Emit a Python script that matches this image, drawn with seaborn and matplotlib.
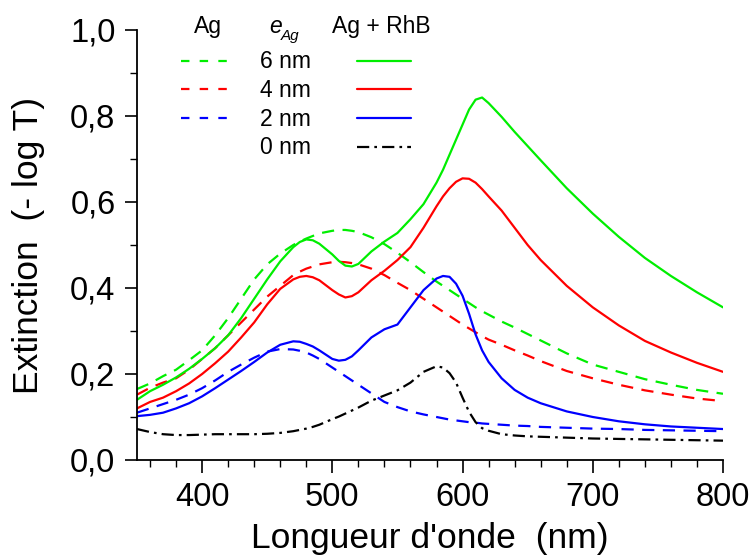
import matplotlib
matplotlib.use("Agg")
import matplotlib.pyplot as plt
import seaborn as sns
from matplotlib.lines import Line2D
from matplotlib.ticker import MultipleLocator, FuncFormatter

# ---------------- data ----------------
wavelength = [350, 360, 370, 380, 390, 400, 410, 420, 430, 440, 450, 460, 470,
              475, 480, 485, 490, 500, 505, 510, 515, 520, 530, 540, 550, 560, 570, 580,
              585, 590, 595, 600, 605, 610, 615, 620, 630, 640, 650, 660,
              680, 700, 720, 740, 760, 780, 800]

ag6_rhb = [0.140, 0.160, 0.175, 0.192, 0.212, 0.235, 0.260, 0.290, 0.330, 0.375, 0.420, 0.462, 0.495,
           0.507, 0.513, 0.511, 0.503, 0.478, 0.463, 0.452, 0.450, 0.456, 0.485, 0.508, 0.528, 0.560, 0.595, 0.645,
           0.675, 0.710, 0.745, 0.780, 0.815, 0.838, 0.843, 0.830, 0.798, 0.763, 0.730, 0.697,
           0.632, 0.573, 0.519, 0.470, 0.428, 0.390, 0.355]
ag4_rhb = [0.120, 0.135, 0.145, 0.160, 0.178, 0.200, 0.225, 0.252, 0.285, 0.320, 0.362, 0.398, 0.420,
           0.426, 0.428, 0.425, 0.418, 0.395, 0.385, 0.378, 0.381, 0.390, 0.418, 0.440, 0.465, 0.495, 0.540, 0.590,
           0.613, 0.632, 0.647, 0.655, 0.654, 0.645, 0.630, 0.613, 0.580, 0.540, 0.500, 0.465,
           0.405, 0.355, 0.313, 0.277, 0.250, 0.226, 0.205]
ag2_rhb = [0.102, 0.105, 0.110, 0.120, 0.132, 0.148, 0.167, 0.187, 0.207, 0.228, 0.250, 0.268, 0.276,
           0.275, 0.270, 0.264, 0.255, 0.235, 0.231, 0.233, 0.241, 0.255, 0.285, 0.304, 0.315, 0.355, 0.395, 0.422,
           0.428, 0.426, 0.410, 0.382, 0.340, 0.292, 0.255, 0.228, 0.190, 0.163, 0.145, 0.132,
           0.113, 0.100, 0.090, 0.083, 0.078, 0.075, 0.072]
rhb_only = [0.072, 0.065, 0.060, 0.058, 0.058, 0.059, 0.060, 0.060, 0.060, 0.060, 0.061, 0.063, 0.067,
            0.070, 0.073, 0.077, 0.082, 0.095, 0.101, 0.108, 0.115, 0.122, 0.138, 0.150, 0.162, 0.180, 0.205, 0.218,
            0.215, 0.202, 0.180, 0.145, 0.112, 0.088, 0.074, 0.068, 0.060, 0.057, 0.055, 0.054,
            0.052, 0.050, 0.049, 0.048, 0.047, 0.046, 0.045]
ag6 = [0.165, 0.178, 0.195, 0.210, 0.232, 0.255, 0.290, 0.330, 0.375, 0.420, 0.455, 0.480, 0.500,
       0.508, 0.515, 0.521, 0.527, 0.533, 0.535, 0.535, 0.533, 0.530, 0.518, 0.502, 0.482, 0.460, 0.437, 0.415,
       0.405, 0.395, 0.385, 0.375, 0.365, 0.355, 0.346, 0.338, 0.322, 0.308, 0.293, 0.278,
       0.248, 0.222, 0.205, 0.188, 0.175, 0.163, 0.154]
ag4 = [0.152, 0.168, 0.180, 0.190, 0.210, 0.235, 0.260, 0.290, 0.320, 0.350, 0.380, 0.405, 0.430,
       0.438, 0.445, 0.450, 0.455, 0.460, 0.461, 0.460, 0.458, 0.455, 0.445, 0.430, 0.412, 0.395, 0.375, 0.355,
       0.345, 0.335, 0.325, 0.315, 0.306, 0.297, 0.288, 0.280, 0.268, 0.255, 0.243, 0.230,
       0.207, 0.190, 0.175, 0.162, 0.152, 0.143, 0.137]
ag2 = [0.110, 0.120, 0.130, 0.140, 0.152, 0.167, 0.185, 0.205, 0.222, 0.238, 0.252, 0.258, 0.257,
       0.254, 0.250, 0.243, 0.235, 0.215, 0.205, 0.195, 0.185, 0.175, 0.155, 0.135, 0.123, 0.113, 0.106, 0.100,
       0.097, 0.094, 0.092, 0.090, 0.088, 0.087, 0.085, 0.084, 0.082, 0.080, 0.079, 0.077,
       0.075, 0.073, 0.072, 0.070, 0.069, 0.068, 0.067]

thickness_labels = ["6 nm", "4 nm", "2 nm", "0 nm"]
x_ticks = [400, 500, 600, 700, 800]
y_ticks = [0.0, 0.2, 0.4, 0.6, 0.8, 1.0]

# ---------------- style ----------------
sns.set_theme(style="ticks")
plt.rcParams["font.family"] = ["Liberation Sans", "DejaVu Sans"]
plt.rcParams["text.color"] = "black"
plt.rcParams["axes.labelcolor"] = "black"
plt.rcParams["xtick.color"] = "black"
plt.rcParams["ytick.color"] = "black"

GREEN, RED, BLUE, BLACK = "#00ee00", "#ff0000", "#0000ff", "#000000"
LW = 1.6
DASH = (0, (5.5, 3.8))
DASHDOT = (0, (5.5, 2.3, 1.2, 2.3))

fig = plt.figure(figsize=(7.52, 5.55), dpi=100)
ax = fig.add_axes([137 / 752, 95 / 555, 586 / 752, 430 / 555])

series = [
    (ag6, GREEN, DASH), (ag4, RED, DASH), (ag2, BLUE, DASH),
    (ag6_rhb, GREEN, "-"), (ag4_rhb, RED, "-"), (ag2_rhb, BLUE, "-"),
    (rhb_only, BLACK, DASHDOT),
]
for ys, col, ls in series:
    sns.lineplot(x=wavelength, y=ys, ax=ax, color=col, linewidth=LW,
                 linestyle=ls, estimator=None, sort=False,
                 solid_joinstyle="round", dash_joinstyle="round")

ax.set_xlim(350, 800)
ax.set_ylim(0, 1.0)
ax.set_xticks(x_ticks)
ax.set_yticks(y_ticks)
ax.xaxis.set_minor_locator(MultipleLocator(20))
ax.yaxis.set_minor_locator(MultipleLocator(0.1))
ax.yaxis.set_major_formatter(FuncFormatter(lambda v, p: f"{v:.1f}".replace(".", ",")))
ax.tick_params(axis="both", which="major", direction="out", length=9, width=1.2,
               labelsize=23.5, color="black", labelcolor="black", pad=6.5)
ax.tick_params(axis="both", which="minor", direction="out", length=5, width=1.0, color="black")
for s in ["top", "right"]:
    ax.spines[s].set_visible(False)
for s in ["left", "bottom"]:
    ax.spines[s].set_linewidth(1.3)
    ax.spines[s].set_color("black")

ax.set_xlabel("Longueur d'onde  (nm)", fontsize=25.5, labelpad=7, color="black")
ax.set_ylabel("Extinction  (- log T)", fontsize=25.5, labelpad=18, color="black")

# ---------------- custom legend ----------------
tr = ax.transAxes
fs = 16.5
ax.text(0.121, 0.993, "Ag", transform=tr, fontsize=fs, ha="center", va="baseline", clip_on=False)
ax.text(0.236, 0.993, "e", transform=tr, fontsize=fs, style="italic", ha="center", va="baseline", clip_on=False)
ax.text(0.261, 0.977, "Ag", transform=tr, fontsize=11, style="italic", ha="center", va="baseline", clip_on=False)
ax.text(0.4165, 0.993, "Ag + RhB", transform=tr, fontsize=fs, ha="center", va="baseline", clip_on=False)

line_y = [0.928, 0.863, 0.795, 0.728]
text_y = [0.912, 0.844, 0.777, 0.712]
dashed_cols = [GREEN, RED, BLUE, None]
solid_specs = [(GREEN, "-"), (RED, "-"), (BLUE, "-"), (BLACK, DASHDOT)]
for ly, ty, lab, dc, (sc, sls) in zip(line_y, text_y, thickness_labels, dashed_cols, solid_specs):
    if dc is not None:
        ax.add_line(Line2D([0.075, 0.1675], [ly, ly], transform=tr, color=dc, lw=LW,
                           linestyle=(0, (3.8, 4.6)), clip_on=False))
    ax.add_line(Line2D([0.376, 0.468], [ly, ly], transform=tr, color=sc, lw=LW,
                       linestyle=sls, clip_on=False))
    ax.text(0.253, ty, lab, transform=tr, fontsize=fs, ha="center", va="baseline")

fig.savefig("out.png", dpi=100)
